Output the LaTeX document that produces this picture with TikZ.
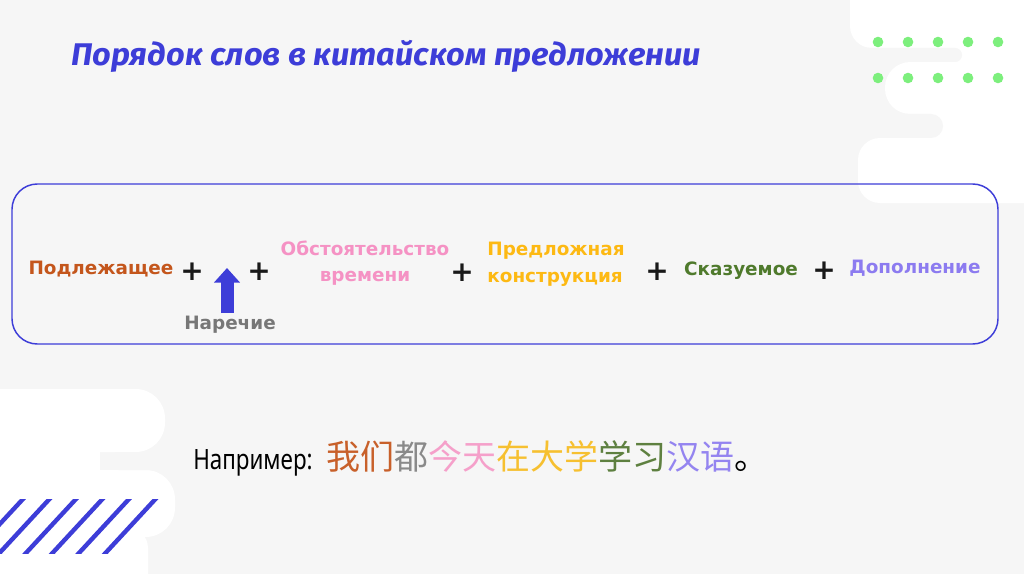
\documentclass[tikz,border=0pt]{standalone}
\usepackage{fontspec}
\usetikzlibrary{arrows.meta}
\setmainfont{DejaVu Sans}
\newfontfamily\titlefont{Fira Sans}[FakeStretch=1.04]
\newfontfamily\lblfont{DejaVu Sans}
\newfontfamily\exfont{Noto Sans}[FakeStretch=0.8]
\newfontfamily\cjk{Noto Sans CJK SC}
\definecolor{bg}{HTML}{F6F6F6}
\definecolor{mblue}{HTML}{3D3DD8}
\definecolor{dotgreen}{HTML}{7DEF7D}
\definecolor{cpodl}{HTML}{C4561C}
\definecolor{cnar}{HTML}{777777}
\definecolor{cobst}{HTML}{F592C4}
\definecolor{cpred}{HTML}{FDB913}
\definecolor{cskaz}{HTML}{4F7A2C}
\definecolor{cdop}{HTML}{8C7BF0}
\definecolor{zwo}{HTML}{C8602A}
\definecolor{zdu}{HTML}{8A8A8A}
\definecolor{zjin}{HTML}{F5A0CA}
\definecolor{zzai}{HTML}{F6C030}
\definecolor{zxue}{HTML}{5E8040}
\definecolor{zhan}{HTML}{9484F0}
\tikzset{
  blob/.style={fill=white, draw=none},
  finger/.style={fill=bg, draw=none},
  stripe/.style={draw=mblue, line width=3.3pt},
  lbl/.style={font=\lblfont\bfseries\fontsize{13.8}{20}\selectfont, inner sep=0pt, align=center},
  plus/.style={font=\lblfont\bfseries\fontsize{21}{24}\selectfont, inner sep=0pt, text=black!90},
  bigarrow/.style={draw=mblue, line width=9.75pt, -{Triangle[length=11pt,width=19pt]}},
  mainbox/.style={draw=mblue, line width=1.1pt, rounded corners=19pt},
}
\begin{document}
\begin{tikzpicture}[x=0.75pt,y=-0.75pt]
\path[use as bounding box, fill=bg] (0,0) rectangle (1024,574);
% top-right white blob
\fill[blob, rounded corners=16.5pt] (850,-40) rectangle (1060,48);
\fill[blob, rounded corners=19pt] (885,62) rectangle (1060,114);
\fill[blob, rounded corners=16.5pt] (858,138) rectangle (1060,203);
\fill[blob] (930,0) rectangle (1030,203);
\fill[finger, rounded corners=5.2pt] (800,48) rectangle (962,62);
\fill[finger, rounded corners=9pt] (800,114) rectangle (943,138);
% green dots
\foreach \y in {42,78}{\foreach \x in {878,908,938,968,998}{\fill[dotgreen] (\x,\y) circle (5.3);}}
% bottom-left white blob
\fill[blob, rounded corners=22pt] (-40,389) rectangle (165,452);
\fill[blob, rounded corners=22pt] (-40,470) rectangle (175,537);
\fill[blob, rounded corners=15pt] (-40,528) rectangle (148,620);
\fill[blob] (-5,389) rectangle (100,574);
\fill[finger, rounded corners=6.7pt] (110,452) rectangle (220,470);
% stripes
\begin{scope}
\clip (0,499) rectangle (200,553);
\foreach \i in {0,...,5}{\draw[stripe] ({23+26.5*\i+6},492.5) -- ({23+26.5*\i-56},559.5);}
\end{scope}
% title
\node[anchor=base west, inner sep=0pt, text=mblue, font=\titlefont\bfseries\itshape\fontsize{23.5}{28}\selectfont] (title) at (71,66) {Порядок слов в китайском предложении};
% main box
\node[mainbox, minimum width=986*0.75pt, minimum height=160*0.75pt, inner sep=0pt] (box) at (505,264) {};
% labels
\node[lbl, text=cpodl] (podl) at (101,269) {Подлежащее};
\node[plus] (p1) at (192,272) {+};
\node[plus] (p2) at (259,272) {+};
\node[lbl, text=cobst] (obst) at (365,263) {Обстоятельство\\времени};
\node[lbl, text=cnar] (nar) at (230,325) {Наречие};
\node[plus] (p3) at (462,273) {+};
\node[lbl, text=cpred, align=left] (pred) at (556,264) {Предложная\\конструкция};
\node[plus] (p4) at (657,272) {+};
\node[lbl, text=cskaz] (skaz) at (741,271) {Сказуемое};
\node[plus] (p5) at (824,271) {+};
\node[lbl, text=cdop] (dop) at (915,268) {Дополнение};
% arrow
\coordinate (arrB) at (227,313);
\coordinate (arrT) at (227,268);
\draw[bigarrow] (arrB) -- (arrT);
% example
\node[anchor=base west, inner sep=0pt, font=\exfont\fontsize{21}{26}\selectfont] (ex) at (193,469) {Например:};
\node[anchor=base west, inner sep=0pt, font=\cjk\fontsize{25.5}{30}\selectfont] (zh) at (326,469) {\textcolor{zwo}{我们}\textcolor{zdu}{都}\textcolor{zjin}{今天}\textcolor{zzai}{在大学}\textcolor{zxue}{学习}\textcolor{zhan}{汉语}\textcolor{black}{。}};
\end{tikzpicture}
\end{document}
